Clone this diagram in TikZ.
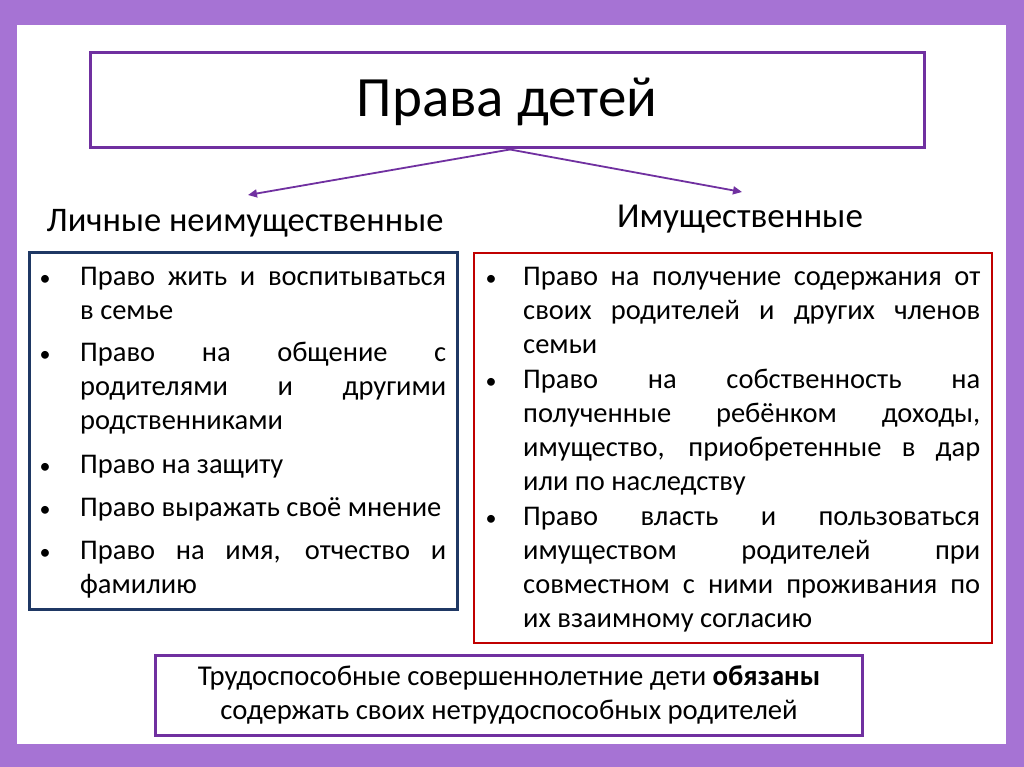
\documentclass[tikz,border=0pt]{standalone}
\usepackage{fontspec}
\setmainfont{Carlito}
\usetikzlibrary{arrows.meta}
\definecolor{framepurple}{HTML}{A673D4}
\definecolor{darkpurple}{HTML}{7030A0}
\definecolor{navyblue}{HTML}{1F3864}
\definecolor{darkred}{HTML}{C00000}
\hyphenpenalty=10000
\exhyphenpenalty=10000
\newcommand{\bodyfont}[1]{\fontsize{28.5}{#1}\selectfont\spaceskip=0.226em plus 2em minus 0.08em\relax}
\begin{document}
\begin{tikzpicture}[x=1pt,y=-1pt,
  box/.style={draw, line width=3pt, inner sep=0pt},
  txt/.style={inner sep=0pt, anchor=base, font=\fontsize{28.7}{34}\selectfont},
  itemtext/.style={inner sep=0pt, anchor=base west, align=justify, font=\bodyfont{34}},
  ritemtext/.style={itemtext, font=\bodyfont{34.2}},
  bul/.style={inner sep=0pt, anchor=base, font=\fontsize{22}{34}\selectfont},
  link/.style={draw=darkpurple, line width=1.8pt, -{Triangle[length=9pt,width=8pt]}}
]
% frame
\fill[framepurple] (0,0) rectangle (1024,767);
\fill[white] (17,25) rectangle (1006,744);
\useasboundingbox (0,0) rectangle (1024,767);

% title
\node[box, draw=darkpurple, minimum width=834pt, minimum height=95pt] (title) at (507,100.5) {};
\node[txt, font=\fontsize{57}{60}\selectfont] (titletext) at (507,117) {Права детей};

% subtitles
\node[txt, font=\fontsize{34.5}{40}\selectfont] (lefthead) at (245,232) {Личные неимущественные};
\node[txt, font=\fontsize{35}{40}\selectfont] (righthead) at (740,228) {Имущественные};

\coordinate (lefttip) at (248,195);
\coordinate (righttip) at (742,192);
\draw[link] ([xshift=3pt]title.south) -- (lefttip);
\draw[link] ([xshift=3pt]title.south) -- (righttip);

% left box
\node[box, draw=navyblue, minimum width=428pt, minimum height=357pt] (leftbox) at (243,430.5) {};
\foreach \y in {285,361,473,516,559} {\node[bul] at (45,\y) {•};}
\node[itemtext, text width=366pt] (l1) at (80,285) {Право жить и воспитываться\linebreak в семье};
\node[itemtext, text width=366pt] (l2) at (80,361) {Право на общение с\linebreak родителями и другими\linebreak родственниками};
\node[itemtext, text width=366pt] (l3) at (80,473) {Право на защиту};
\node[itemtext, text width=366pt] (l4) at (80,516) {Право выражать своё мнение};
\node[itemtext, text width=366pt] (l5) at (80,559) {Право на имя, отчество и\linebreak фамилию};

% right box
\node[box, draw=darkred, line width=2.6pt, minimum width=518pt, minimum height=390pt] (rightbox) at (733,448) {};
\foreach \y in {285,388,525} {\node[bul] at (491,\y) {•};}
\node[ritemtext, text width=457pt] (r1) at (523,285) {Право на получение содержания от\linebreak своих родителей и других членов\linebreak семьи};
\node[ritemtext, text width=457pt] (r2) at (523,388) {Право на собственность на\linebreak полученные ребёнком доходы,\linebreak имущество, приобретенные в дар\linebreak или по наследству};
\node[ritemtext, text width=457pt] (r3) at (523,525) {Право власть и пользоваться\linebreak имуществом родителей при\linebreak совместном с ними проживания по\linebreak их взаимному согласию};

% bottom box
\node[box, draw=darkpurple, minimum width=707pt, minimum height=80pt] (bottombox) at (508.5,695) {};
\node[txt] (b1) at (509,685) {Трудоспособные совершеннолетние дети \textbf{обязаны}};
\node[txt] (b2) at (509,719) {содержать своих нетрудоспособных родителей};
\end{tikzpicture}
\end{document}
